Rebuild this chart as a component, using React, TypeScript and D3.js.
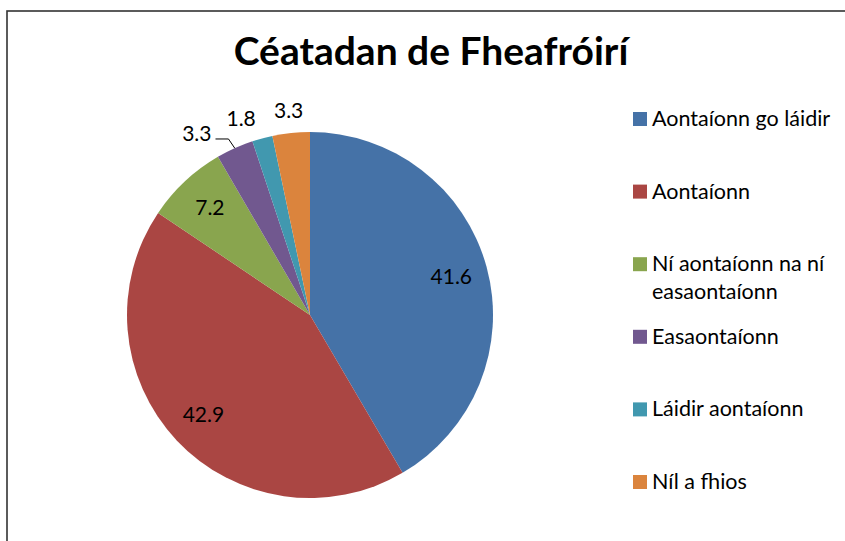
import React from "react";
import * as d3 from "d3";

const title = "Céatadan de Fheafróirí";
const categories = [
  "Aontaíonn go láidir",
  "Aontaíonn",
  "Ní aontaíonn na ní easaontaíonn",
  "Easaontaíonn",
  "Láidir aontaíonn",
  "Níl a fhios",
];
const values = [41.6, 42.9, 7.2, 3.3, 1.8, 3.3];
const colors = ["#4572A7", "#AA4643", "#89A54E", "#71588F", "#4198AF", "#DB843D"];
// legend text split into lines as in the original
const legendLines = [
  ["Aontaíonn go láidir"],
  ["Aontaíonn"],
  ["Ní aontaíonn na ní", "easaontaíonn"],
  ["Easaontaíonn"],
  ["Láidir aontaíonn"],
  ["Níl a fhios"],
];

const WIDTH = 845;
const HEIGHT = 541;
const FONT = "Lato, 'Open Sans', sans-serif";

const App = () => {
  const cx = 310;
  const cy = 315;
  const radius = 183;

  const pie = d3
    .pie<number>()
    .sort(null)
    .value((d) => d);
  const arcs = pie(values);

  const arc = d3.arc<d3.PieArcDatum<number>>().innerRadius(0).outerRadius(radius);
  const innerLabel = d3
    .arc<d3.PieArcDatum<number>>()
    .innerRadius(radius * 0.8)
    .outerRadius(radius * 0.8);

  // small slices get their labels outside the pie
  const outside = [false, false, false, true, true, true];
  const nudges: [number, number][] = [
    [0, 0],
    [0, 0],
    [0, 0],
    [0, 0],
    [-15, 4],
    [0, 2],
  ];

  const polar = (angle: number, r: number): [number, number] => [
    Math.sin(angle) * r,
    -Math.cos(angle) * r,
  ];

  const legendY = d3
    .scalePoint<number>()
    .domain(d3.range(categories.length))
    .range([119, 482]);

  const labelSize = 21;

  return (
    <svg
      width={WIDTH}
      height={HEIGHT}
      style={{ position: "absolute", left: 0, top: 0, background: "#fff" }}
    >
      <rect
        x={7}
        y={11}
        width={WIDTH + 20}
        height={HEIGHT + 20}
        fill="#fff"
        stroke="#333"
        strokeWidth={1.6}
      />
      <text
        x={431}
        y={65}
        textAnchor="middle"
        fontFamily={FONT}
        fontWeight="bold"
        fontSize={39}
        fill="#000"
      >
        {title}
      </text>

      <g transform={`translate(${cx},${cy})`}>
        {arcs.map((a, i) => (
          <path key={i} d={arc(a) ?? ""} fill={colors[i]} />
        ))}
        {arcs.map((a, i) => {
          const mid = (a.startAngle + a.endAngle) / 2;
          if (!outside[i]) {
            const [x, y] = innerLabel.centroid(a);
            return (
              <text
                key={"l" + i}
                x={x}
                y={y + 7}
                textAnchor="middle"
                fontFamily={FONT}
                fontSize={labelSize}
                fill="#000"
              >
                {values[i]}
              </text>
            );
          }
          if (i === 3) {
            // label with leader line
            const [px, py] = polar(mid, radius);
            const [ex, ey] = polar(mid - 0.01, radius * 1.06);
            return (
              <g key={"l" + i}>
                <polyline
                  points={`${px},${py} ${ex},${ey} ${ex - 13},${ey}`}
                  fill="none"
                  stroke="#000"
                  strokeWidth={1}
                />
                <text
                  x={ex - 17}
                  y={ey + 2}
                  textAnchor="end"
                  fontFamily={FONT}
                  fontSize={labelSize}
                  fill="#000"
                >
                  {values[i]}
                </text>
              </g>
            );
          }
          const [x, y] = polar(mid, radius * 1.13);
          return (
            <text
              key={"l" + i}
              x={x + nudges[i][0]}
              y={y + nudges[i][1] + 7}
              textAnchor="middle"
              fontFamily={FONT}
              fontSize={labelSize}
              fill="#000"
            >
              {values[i]}
            </text>
          );
        })}
      </g>

      <g>
        {categories.map((c, i) => {
          const y = legendY(i) ?? 0;
          return (
            <g key={c}>
              <rect x={633} y={y - 7} width={14} height={14} fill={colors[i]} />
              {legendLines[i].map((line, j) => (
                <text
                  key={j}
                  x={652}
                  y={y + 7 + j * 28}
                  fontFamily={FONT}
                  fontSize={21.5}
                  fill="#000"
                >
                  {line}
                </text>
              ))}
            </g>
          );
        })}
      </g>
    </svg>
  );
};

export default App;
